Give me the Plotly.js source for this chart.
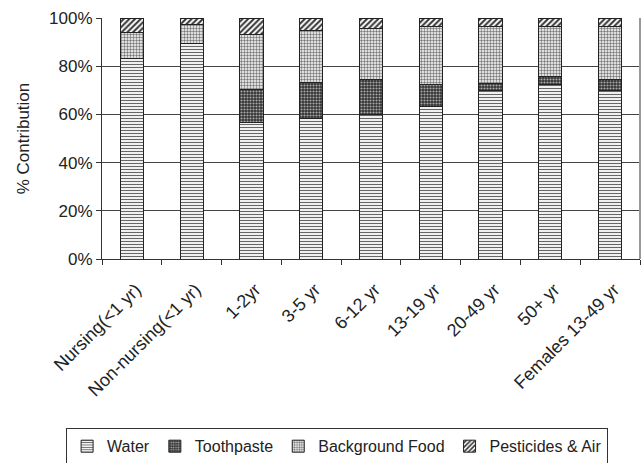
<!DOCTYPE html>
<html>
<head>
<meta charset="utf-8">
<script src="https://cdn.plot.ly/plotly-3.0.1.min.js"></script>
<style>html,body{margin:0;padding:0;background:#fff;}#chart{width:644px;height:463px;}</style>
</head>
<body>
<div id="chart"></div>
<script>
const categories = ["Nursing(<1 yr)", "Non-nursing(<1 yr)", "1-2yr", "3-5 yr", "6-12 yr", "13-19 yr", "20-49 yr", "50+ yr", "Females 13-49 yr"];
const water = [83.3, 89.5, 56.5, 58.4, 59.8, 63.2, 69.8, 72.6, 69.9];
const toothpaste = [0, 0, 13.8, 14.8, 14.5, 9.4, 3.1, 3.0, 4.4];
const backgroundFood = [10.8, 8.0, 22.7, 21.8, 21.4, 23.8, 23.5, 20.8, 22.1];
const pesticidesAir = [5.9, 2.5, 7.0, 5.0, 4.3, 3.6, 3.6, 3.6, 3.6];
const seriesNames = ["Water", "Toothpaste", "Background Food", "Pesticides & Air"];

const FONT = "Liberation Sans, Arial, sans-serif";
const outline = {color: "#222", width: 1};
const traces = [
  {name: seriesNames[0], y: water, marker: {color: "#fff", line: outline, pattern: {shape: "-", fgcolor: "#666", bgcolor: "#fff", size: 3, solidity: 0.4}}},
  {name: seriesNames[1], y: toothpaste, marker: {color: "#333", line: outline, pattern: {shape: ".", fgcolor: "#aaa", bgcolor: "#333", size: 3, solidity: 0.4}}},
  {name: seriesNames[2], y: backgroundFood, marker: {color: "#fff", line: outline, pattern: {shape: ".", fgcolor: "#777", bgcolor: "#fff", size: 3, solidity: 0.5}}},
  {name: seriesNames[3], y: pesticidesAir, marker: {color: "#fff", line: outline, pattern: {shape: "/", fgcolor: "#333", bgcolor: "#fff", size: 4, solidity: 0.5}}}
].map(t => Object.assign({type: "bar", x: categories, hoverinfo: "skip"}, t));

const layout = {
  width: 644, height: 463,
  margin: {l: 102, r: 4, t: 18, b: 204},
  barmode: "stack",
  bargap: 0.61,
  paper_bgcolor: "#fff", plot_bgcolor: "#fff",
  font: {family: FONT, size: 17, color: "#222"},
  showlegend: true,
  legend: {orientation: "h", x: 0.437, xanchor: "center", yref: "container", y: 0.075, yanchor: "top",
           traceorder: "normal", bordercolor: "#333", borderwidth: 1, font: {size: 16},
           itemwidth: 30, tracegroupgap: 0},
  xaxis: {type: "category", tickangle: -45, showline: true, linecolor: "#333", linewidth: 1,
          ticks: "outside", ticklen: 5, tickcolor: "#333", tickson: "boundaries", automargin: false,
          ticklabelstandoff: 12, ticklabelshift: 4,
          showgrid: false, tickfont: {size: 18}},
  yaxis: {range: [0, 100], tickvals: [0, 20, 40, 60, 80, 100], ticktext: ["0%", "20%", "40%", "60%", "80%", "100%"],
          showline: true, linecolor: "#333", linewidth: 1, ticks: "outside", ticklen: 5, tickcolor: "#333",
          showgrid: true, gridcolor: "#444", gridwidth: 1, zeroline: false, automargin: false,
          title: {text: "% Contribution", font: {size: 17}, standoff: 15}, tickfont: {size: 17}},
  shapes: [{type: "line", xref: "paper", yref: "paper", x0: 1, x1: 1, y0: 0, y1: 1, line: {color: "#999", width: 2}}]
};

Plotly.newPlot("chart", traces, layout, {displayModeBar: false, staticPlot: true});
</script>
</body>
</html>
